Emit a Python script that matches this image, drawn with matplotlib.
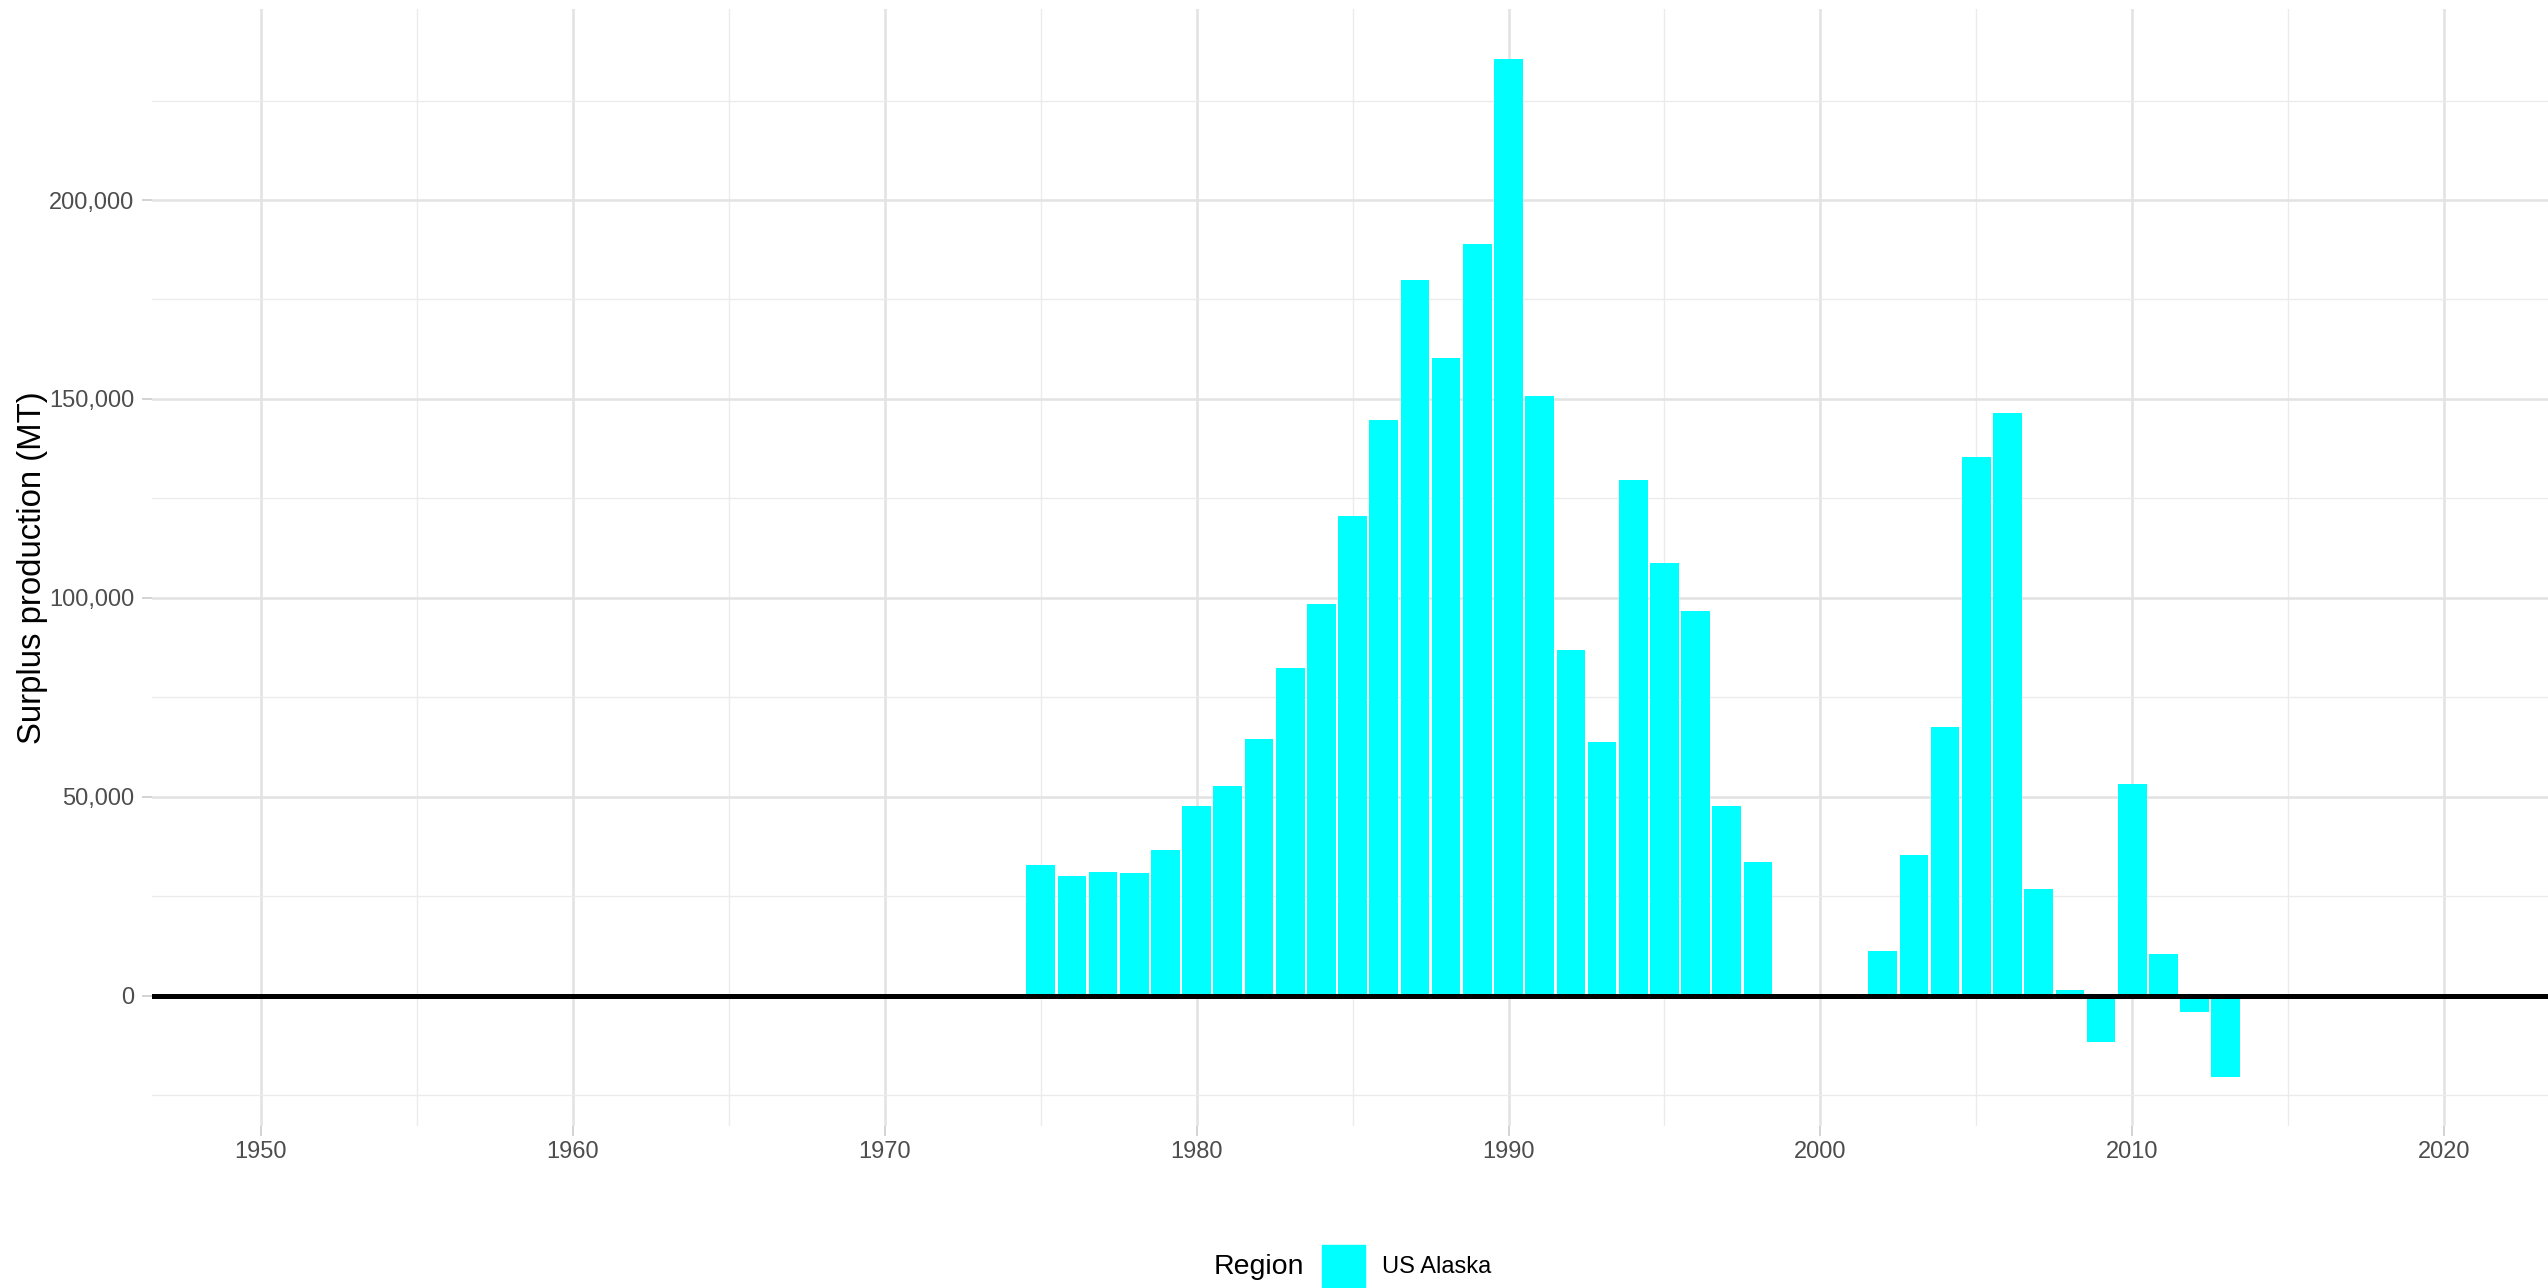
import matplotlib

matplotlib.use("Agg")
import matplotlib.pyplot as plt
import matplotlib.patches as mpatches
from matplotlib.ticker import FuncFormatter, MultipleLocator

plt.rcParams['font.family'] = ['Liberation Sans', 'DejaVu Sans']

# Surplus production by year (MT), US Alaska
years = list(range(1975, 2014))
surplus = [
    33000, 30000, 31100, 30900, 36700, 47800, 52800, 64600, 82400, 98500,
    120700, 144600, 179900, 160400, 188900, 235500, 150700, 87000, 63900, 129600,
    108900, 96700, 47700, 33600, 0, -700, -700, 11200, 35300, 67500,
    135500, 146500, 26800, 1400, -11600, 53200, 10500, -4000, -20400,
]
region = "US Alaska"
bar_color = "#00FFFF"

fig = plt.figure(figsize=(25.48, 12.88), dpi=100)
ax = fig.add_axes([152.3 / 2548, 1 - 1126 / 1288, 1 - 152.3 / 2548, (1126 - 9) / 1288])

ax.bar(years, surplus, width=0.92, color=bar_color, zorder=2)
ax.axhline(0, color="black", lw=3.6, zorder=3)

ax.set_xlim(1946.515, 2023.33)
ax.set_ylim(-32700, 248000)

ax.xaxis.set_major_locator(MultipleLocator(10))
ax.xaxis.set_minor_locator(MultipleLocator(5))
ax.yaxis.set_major_locator(MultipleLocator(50000))
ax.yaxis.set_minor_locator(MultipleLocator(25000))
ax.yaxis.set_major_formatter(FuncFormatter(lambda v, p: f"{int(v):,}"))

ax.grid(which="major", color="#e3e3e3", lw=1.9, zorder=0)
ax.grid(which="minor", color="#ebebeb", lw=1.0, zorder=0)
ax.set_axisbelow(True)
for s in ax.spines.values():
    s.set_visible(False)

ax.tick_params(which="major", length=7, width=1.2, color="#cccccc",
               labelsize=17, labelcolor="#4d4d4d")
ax.tick_params(axis="y", pad=6)
ax.tick_params(axis="x", pad=3.5)
ax.tick_params(which="minor", length=0)

ax.set_ylabel("Surplus production (MT)", fontsize=23.7, color="black")
ax.yaxis.set_label_coords(-0.0435, 0.5)

# legend at the bottom: title, key, label
fig.text(1214 / 2548, 1 - 1267 / 1288, "Region", fontsize=20.5, va="center", ha="left")
fig.add_artist(mpatches.Rectangle((1322 / 2548, 1 - 1288 / 1288), 43 / 2548, 43 / 1288,
                                  transform=fig.transFigure, color=bar_color))
fig.text(1382 / 2548, 1 - 1267 / 1288, region, fontsize=17, va="center", ha="left")

fig.savefig("out.png", dpi=100)
